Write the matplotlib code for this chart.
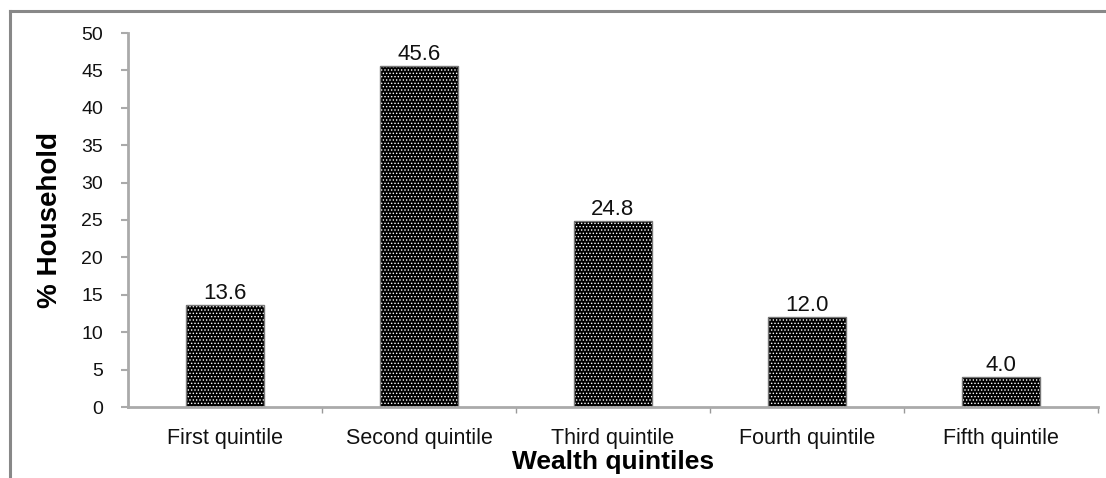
import numpy as np
import matplotlib
matplotlib.use("Agg")
import matplotlib.pyplot as plt
from matplotlib.lines import Line2D

categories = ['First quintile', 'Second quintile', 'Third quintile', 'Fourth quintile', 'Fifth quintile']
values = [13.6, 45.6, 24.8, 12.0, 4.0]
value_labels = ['13.6', '45.6', '24.8', '12.0', '4.0']
yticks = [0, 5, 10, 15, 20, 25, 30, 35, 40, 45, 50]

plt.rcParams['font.family'] = ['Liberation Sans', 'DejaVu Sans']
plt.rcParams['hatch.linewidth'] = 0.6

fig = plt.figure(figsize=(11.06, 4.78), dpi=100)
ax = fig.add_axes([128/1106, 1-407/478, (1098-128)/1106, (407-33)/478])

x = np.arange(len(categories))
bars = ax.bar(x, values, width=0.4, color='black', edgecolor='white', hatch='.....', linewidth=0)
ax.bar(x, values, width=0.4, fill=False, edgecolor='#777777', linewidth=1)
ax.bar_label(bars, labels=value_labels, padding=1, fontsize=16, color='#111111')

ax.set_xlim(-0.5, 4.5)
ax.set_ylim(0, 50)
ax.set_yticks(yticks)
ax.set_xticks(x)
ax.set_xticklabels(categories, fontsize=15.5, color='#111111')
ax.set_xticks(np.arange(0.5, 5, 1.0), minor=True)
ax.tick_params(axis='y', direction='out', length=5, width=1.5, color='#aaaaaa', pad=13, labelsize=14, labelcolor='#111111')
ax.tick_params(axis='x', which='major', length=0, pad=15)
ax.tick_params(axis='x', which='minor', direction='out', length=4, width=1, color='#999999')

for s in ['top', 'right']:
    ax.spines[s].set_visible(False)
for s in ['left', 'bottom']:
    ax.spines[s].set_color('#aaaaaa')
    ax.spines[s].set_linewidth(2)

ax.set_ylabel('% Household', fontsize=20, fontweight='bold', labelpad=13)
ax.set_xlabel('Wealth quintiles', fontsize=19, fontweight='bold', labelpad=1)

fig.add_artist(Line2D([10/1106, 1.0], [1-11/478, 1-11/478], transform=fig.transFigure, color='#888888', lw=2.2))
fig.add_artist(Line2D([10/1106, 10/1106], [0, 1-11/478], transform=fig.transFigure, color='#888888', lw=2.2))

fig.savefig('out.png', dpi=100)
